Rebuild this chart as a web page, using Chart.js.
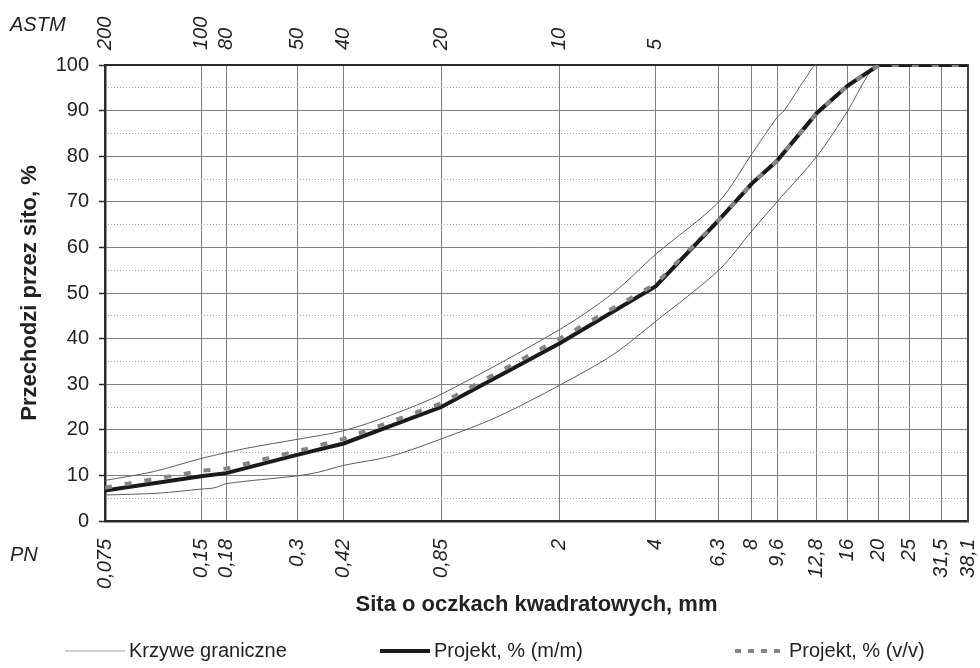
<!DOCTYPE html>
<html lang="pl">
<head>
<meta charset="utf-8">
<title>Krzywa uziarnienia</title>
<script src="https://cdn.jsdelivr.net/npm/chart.js@4/dist/chart.umd.min.js"></script>
<style>
  html, body { margin: 0; padding: 0; background: #fff; }
  #wrap { width: 980px; height: 668px; position: relative; }
</style>
</head>
<body>
<div id="wrap"><canvas id="grading"></canvas></div>
<script>
// Sieve openings (PN series, mm) and their tick labels
const sieveMm = [0.075, 0.15, 0.18, 0.3, 0.42, 0.85, 2, 4, 6.3, 8, 9.6, 12.8, 16, 20, 25, 31.5, 38.1];
const pnLabels = ['0,075', '0,15', '0,18', '0,3', '0,42', '0,85', '2', '4', '6,3', '8', '9,6', '12,8', '16', '20', '25', '31,5', '38,1'];

// ASTM sieve numbers placed at their openings (mm)
const astmMm = [0.075, 0.15, 0.18, 0.3, 0.42, 0.85, 2, 4];
const astmLabels = ['200', '100', '80', '50', '40', '20', '10', '5'];

// Design mix, % passing (mass and volume)
const projektMm = [6.7, 9.8, 10.5, 14.5, 17, 25, 39, 51.5, 66, 74, 79, 89.5, 95.5, 100, 100, 100, 100];
const projektVv = [7.3, 11, 11.5, 15.3, 18, 25.8, 40, 52, 66, 74, 79, 89.5, 95.5, 100, 100, 100, 100];

// Grading envelope: upper limit
const upperMm = [0.075, 0.106, 0.15, 0.18, 0.21, 0.3, 0.42, 0.59, 0.85, 2, 2.94, 4, 6.3, 8, 9.6, 10.1, 11.9, 12.8, 38.1];
const upperPass = [8.9, 10.8, 13.7, 15, 16, 17.9, 19.8, 23.2, 27.8, 42, 50, 58.5, 70, 80.5, 88.5, 90, 97.5, 100, 100];

// Grading envelope: lower limit
const lowerMm = [0.075, 0.11, 0.15, 0.166, 0.18, 0.3, 0.35, 0.42, 0.59, 0.85, 1.27, 2, 2.94, 4, 6.3, 8, 9.6, 12.8, 16, 18.4, 20, 38.1];
const lowerPass = [5.7, 6.1, 7, 7.3, 8.2, 9.9, 10.7, 12.2, 14.2, 18, 22.8, 29.8, 36.5, 43.8, 55, 63.6, 70, 80, 90, 97.5, 100, 100];

const FONT = '"Liberation Sans", Arial, Helvetica, sans-serif';
const TEXT = '#222';

const pairs = (xs, ys) => xs.map((x, i) => ({ x, y: ys[i] }));

// Corner captions naming the two sieve series
const seriesCaptions = {
  id: 'seriesCaptions',
  afterDraw(chart) {
    const { ctx } = chart;
    ctx.save();
    ctx.font = 'italic 20px ' + FONT;
    ctx.fillStyle = TEXT;
    ctx.textAlign = 'left';
    ctx.textBaseline = 'middle';
    ctx.fillText('ASTM', 10, 25);
    ctx.fillText('PN', 10, 555);
    ctx.restore();
  }
};

// Single-row legend under the axis title
const legendRow = {
  id: 'legendRow',
  afterDraw(chart, args, opts) {
    const { ctx } = chart;
    opts.items.forEach((it) => {
      const ds = chart.data.datasets[it.dataset];
      ctx.save();
      ctx.strokeStyle = it.color || ds.borderColor;
      ctx.lineWidth = ds.borderWidth;
      ctx.lineCap = 'butt';
      ctx.setLineDash(it.dash || []);
      ctx.beginPath();
      ctx.moveTo(it.x, opts.y);
      ctx.lineTo(it.x + it.len, opts.y);
      ctx.stroke();
      ctx.setLineDash([]);
      ctx.font = '20px ' + FONT;
      ctx.fillStyle = TEXT;
      ctx.textAlign = 'left';
      ctx.textBaseline = 'middle';
      ctx.fillText(ds.label, it.x + it.len + 4, opts.y);
      ctx.restore();
    });
  }
};

const fixedTicks = (values) => (scale) => {
  scale.ticks = values.map((v) => ({ value: v }));
};

// Horizontal axes keep a fixed height and do not widen the side margins
const fixHorizontal = (height) => (s) => {
  s.height = height;
  s.paddingLeft = 0;
  s.paddingRight = 0;
};

new Chart(document.getElementById('grading'), {
  type: 'line',
  data: {
    datasets: [
      {
        label: 'Projekt, % (v/v)',
        data: pairs(sieveMm, projektVv),
        borderColor: '#858585',
        borderWidth: 4,
        borderDash: [7, 13],
        pointRadius: 0,
        tension: 0,
        order: 0
      },
      {
        label: 'Projekt, % (m/m)',
        data: pairs(sieveMm, projektMm),
        borderColor: '#1a1a1a',
        borderWidth: 4,
        pointRadius: 0,
        tension: 0,
        order: 1
      },
      {
        label: 'Krzywe graniczne',
        data: pairs(upperMm, upperPass),
        borderColor: '#5c5c5c',
        borderWidth: 1,
        pointRadius: 0,
        tension: 0.3,
        order: 2
      },
      {
        label: 'Krzywe graniczne',
        data: pairs(lowerMm, lowerPass),
        borderColor: '#5c5c5c',
        borderWidth: 1,
        pointRadius: 0,
        tension: 0.3,
        order: 3
      }
    ]
  },
  options: {
    responsive: true,
    maintainAspectRatio: false,
    animation: false,
    events: [],
    layout: { padding: { left: 0, right: 0, top: 0, bottom: 50 } },
    scales: {
      x: {
        type: 'logarithmic',
        position: 'bottom',
        min: 0.075,
        max: 38.1,
        bounds: 'data',
        afterBuildTicks: fixedTicks(sieveMm),
        afterFit: fixHorizontal(97),
        ticks: {
          autoSkip: false,
          minRotation: 90,
          maxRotation: 90,
          padding: 18,
          color: TEXT,
          font: { family: FONT, size: 20, style: 'italic' },
          callback: (v) => pnLabels[sieveMm.indexOf(v)] ?? ''
        },
        grid: { color: '#808080', lineWidth: 1, drawTicks: false },
        border: { display: true, color: '#2a2a2a', width: 2.5 },
        title: {
          display: true,
          text: 'Sita o oczkach kwadratowych, mm',
          color: TEXT,
          font: { family: FONT, size: 22, weight: 'bold' },
          padding: { top: 0, bottom: 0 }
        }
      },
      xAstm: {
        type: 'logarithmic',
        position: 'top',
        min: 0.075,
        max: 38.1,
        bounds: 'data',
        afterBuildTicks: fixedTicks(astmMm),
        afterFit: fixHorizontal(65),
        ticks: {
          autoSkip: false,
          minRotation: 90,
          maxRotation: 90,
          padding: 15,
          labelOffset: 24,
          color: TEXT,
          font: { family: FONT, size: 20, style: 'italic' },
          callback: (v) => astmLabels[astmMm.indexOf(v)] ?? ''
        },
        grid: { display: false, drawTicks: false },
        border: { display: true, color: '#2a2a2a', width: 2 }
      },
      y: {
        type: 'linear',
        position: 'left',
        min: 0,
        max: 100,
        afterFit: (s) => { s.width = 105; },
        ticks: {
          stepSize: 10,
          padding: 10,
          color: TEXT,
          font: { family: FONT, size: 20 }
        },
        grid: { color: '#808080', lineWidth: 1, drawTicks: true, tickLength: 6, tickColor: '#2a2a2a', tickWidth: 1.5 },
        border: { display: true, color: '#2a2a2a', width: 2.5 },
        title: {
          display: true,
          text: 'Przechodzi przez sito, %',
          color: TEXT,
          font: { family: FONT, size: 22, weight: 'bold' },
          padding: { top: 17, bottom: 0 }
        }
      },
      yMinor: {
        type: 'linear',
        position: 'left',
        min: 0,
        max: 100,
        afterFit: (s) => { s.width = 0; },
        ticks: { display: false, stepSize: 5 },
        grid: {
          drawTicks: false,
          lineWidth: 1,
          color: (c) => (c.tick && c.tick.value % 10 !== 0 ? '#a8a8a8' : 'rgba(0,0,0,0)')
        },
        border: { display: false, dash: [1, 2] }
      },
      yFrame: {
        type: 'linear',
        position: 'right',
        min: 0,
        max: 100,
        afterFit: (s) => { s.width = 12; },
        ticks: { display: false },
        grid: { display: false, drawTicks: false },
        border: { display: true, color: '#444', width: 2 }
      }
    },
    plugins: {
      legend: { display: false },
      tooltip: { enabled: false },
      legendRow: {
        y: 651,
        items: [
          { dataset: 2, x: 65, len: 60, color: '#9a9a9a' },
          { dataset: 1, x: 380, len: 50 },
          { dataset: 0, x: 735, len: 50, dash: [6, 7] }
        ]
      }
    }
  },
  plugins: [seriesCaptions, legendRow]
});
</script>
</body>
</html>
